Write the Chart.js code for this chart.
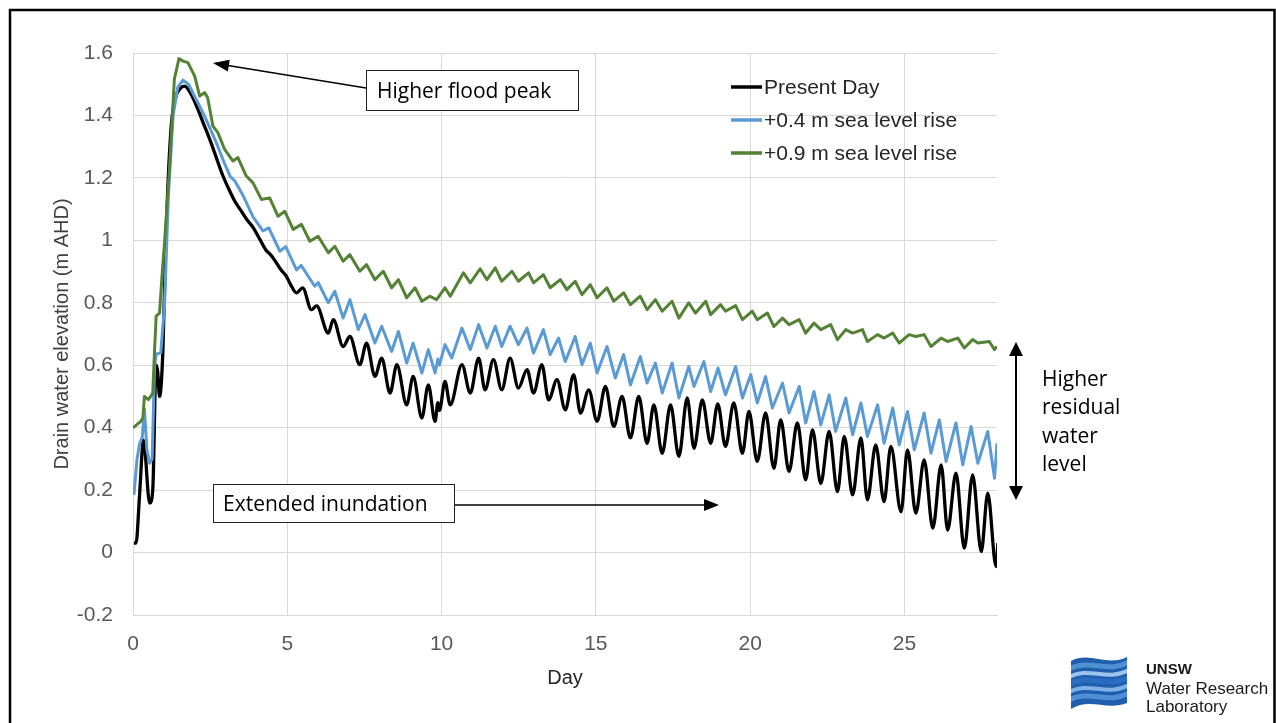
<!DOCTYPE html>
<html><head><meta charset="utf-8">
<script src="https://cdn.jsdelivr.net/npm/chart.js@4.4.1/dist/chart.umd.min.js"></script>
<style>html,body{margin:0;padding:0;background:#fff;}canvas{display:block;}</style>
</head><body>
<canvas id="c" width="1276" height="723"></canvas>
<script>
// ---------------- DATA ----------------
const seriesNames = ['Present Day', '+0.4 m sea level rise', '+0.9 m sea level rise'];
const seriesColors = ['#000000', '#5b9bd5', '#548235'];
const xAxisTitle = 'Day';
const yAxisTitle = 'Drain water elevation (m AHD)';

// [day, elevation]
const presentDay = [
 [0.03,0.03],[0.1,0.03],[0.21,0.18],[0.34,0.36],[0.54,0.158],[0.64,0.2],[0.75,0.6],[0.8,0.58],[0.86,0.5],[0.97,0.65],
 [1.06,0.99],[1.23,1.355],[1.39,1.46],[1.52,1.485],[1.67,1.494],[1.9,1.465],[2.1,1.42],[2.3,1.37],[2.5,1.32],[2.7,1.265],
 [2.9,1.21],[3.1,1.165],[3.3,1.125],[3.5,1.095],[3.7,1.065],[3.9,1.04],[4.1,1.005],[4.3,0.97],[4.45,0.955],[4.6,0.935],
 [4.8,0.905],[4.97,0.885],[5.1,0.86],[5.3,0.832],[5.5,0.848],[5.78,0.778],[5.95,0.79],[6.33,0.703],[6.49,0.746],[6.81,0.66],
 [7.03,0.692],[7.35,0.602],[7.57,0.671],[7.84,0.564],[8.06,0.623],[8.33,0.511],[8.55,0.602],[8.87,0.473],[9.08,0.564],[9.36,0.431],
 [9.57,0.537],[9.79,0.42],[9.88,0.48],[9.93,0.455],[10.11,0.548],[10.28,0.473],[10.66,0.602],[10.93,0.511],[11.2,0.623],[11.41,0.521],
 [11.68,0.618],[11.95,0.521],[12.22,0.623],[12.49,0.527],[12.77,0.586],[12.98,0.511],[13.25,0.602],[13.47,0.489],[13.74,0.554],[14.01,0.457],
 [14.28,0.57],[14.5,0.447],[14.77,0.521],[15.04,0.42],[15.31,0.532],[15.58,0.404],[15.85,0.5],[16.12,0.367],[16.39,0.5],[16.66,0.35],
 [16.88,0.473],[17.15,0.318],[17.42,0.473],[17.69,0.308],[17.96,0.495],[18.18,0.334],[18.45,0.489],[18.72,0.35],[18.95,0.476],[19.2,0.34],
 [19.47,0.479],[19.75,0.318],[19.96,0.452],[20.23,0.292],[20.5,0.447],[20.77,0.27],[20.99,0.425],[21.26,0.26],[21.53,0.415],[21.8,0.233],
 [22.02,0.393],[22.29,0.222],[22.56,0.388],[22.83,0.195],[23.05,0.372],[23.32,0.185],[23.59,0.367],[23.8,0.169],[24.07,0.345],[24.34,0.163],
 [24.56,0.34],[24.89,0.131],[25.1,0.329],[25.37,0.126],[25.64,0.297],[25.92,0.078],[26.19,0.281],[26.4,0.072],[26.67,0.254],[26.94,0.014],
 [27.21,0.249],[27.49,0.003],[27.7,0.19],[27.97,-0.045],[28.03,0.03]
];
const slr04 = [
 [0.03,0.185],[0.13,0.3],[0.22,0.35],[0.3,0.37],[0.37,0.46],[0.45,0.33],[0.54,0.286],[0.62,0.3],[0.7,0.6],[0.75,0.635],
 [0.9,0.64],[1.02,0.79],[1.15,1.15],[1.3,1.4],[1.45,1.49],[1.62,1.513],[1.8,1.5],[2.0,1.46],[2.16,1.43],[2.4,1.38],
 [2.7,1.313],[2.95,1.25],[3.15,1.205],[3.3,1.19],[3.56,1.145],[3.89,1.075],[4.21,1.03],[4.4,1.04],[4.76,0.965],[4.95,0.98],
 [5.3,0.905],[5.45,0.92],[5.89,0.853],[6.0,0.865],[6.33,0.8],[6.54,0.837],[6.81,0.751],[7.03,0.81],[7.3,0.714],[7.52,0.762],
 [7.84,0.671],[8.06,0.725],[8.38,0.644],[8.6,0.708],[8.87,0.607],[9.08,0.671],[9.36,0.575],[9.57,0.65],[9.79,0.575],[9.88,0.62],
 [9.93,0.6],[10.11,0.666],[10.33,0.623],[10.66,0.719],[10.93,0.65],[11.2,0.73],[11.47,0.655],[11.74,0.725],[11.95,0.66],[12.22,0.725],
 [12.49,0.666],[12.77,0.719],[12.98,0.639],[13.3,0.714],[13.52,0.634],[13.79,0.687],[14.01,0.612],[14.33,0.692],[14.55,0.602],[14.82,0.671],
 [15.04,0.575],[15.36,0.66],[15.63,0.559],[15.9,0.634],[16.12,0.537],[16.44,0.628],[16.66,0.543],[16.93,0.607],[17.15,0.511],[17.47,0.607],
 [17.69,0.495],[18.01,0.596],[18.18,0.532],[18.5,0.612],[18.72,0.516],[18.96,0.591],[19.2,0.505],[19.53,0.596],[19.75,0.495],[20.02,0.57],
 [20.23,0.479],[20.5,0.564],[20.72,0.463],[21.05,0.543],[21.26,0.447],[21.59,0.532],[21.8,0.415],[22.07,0.516],[22.29,0.409],[22.56,0.505],
 [22.77,0.388],[23.1,0.495],[23.32,0.377],[23.59,0.479],[23.8,0.372],[24.13,0.473],[24.34,0.35],[24.62,0.463],[24.83,0.345],[25.1,0.452],
 [25.32,0.329],[25.64,0.447],[25.86,0.318],[26.13,0.425],[26.35,0.292],[26.67,0.415],[26.89,0.281],[27.16,0.404],[27.38,0.286],[27.7,0.388],
 [27.92,0.238],[28.0,0.35]
];
const slr09 = [
 [0.0,0.399],[0.25,0.42],[0.32,0.431],[0.37,0.5],[0.5,0.49],[0.64,0.51],[0.7,0.65],[0.75,0.757],[0.86,0.767],[0.95,0.9],
 [1.02,0.99],[1.18,1.227],[1.34,1.516],[1.49,1.582],[1.62,1.574],[1.78,1.569],[2.0,1.526],[2.16,1.462],[2.32,1.473],[2.42,1.457],
 [2.59,1.366],[2.75,1.345],[2.97,1.291],[3.24,1.254],[3.4,1.265],[3.67,1.206],[3.89,1.184],[4.16,1.131],[4.43,1.136],[4.7,1.077],
 [4.92,1.093],[5.19,1.035],[5.46,1.051],[5.73,0.997],[6.0,1.013],[6.33,0.96],[6.54,0.981],[6.81,0.933],[7.03,0.954],[7.35,0.901],
 [7.57,0.922],[7.84,0.874],[8.11,0.901],[8.38,0.848],[8.6,0.874],[8.87,0.816],[9.14,0.848],[9.36,0.805],[9.62,0.821],[9.84,0.81],
 [10.11,0.848],[10.28,0.821],[10.71,0.896],[10.93,0.864],[11.25,0.909],[11.47,0.874],[11.74,0.912],[11.95,0.869],[12.28,0.901],[12.49,0.869],
 [12.82,0.896],[12.98,0.864],[13.3,0.89],[13.52,0.848],[13.85,0.874],[14.06,0.842],[14.33,0.869],[14.55,0.826],[14.82,0.858],[15.04,0.816],
 [15.36,0.848],[15.58,0.805],[15.9,0.832],[16.12,0.794],[16.44,0.821],[16.66,0.778],[16.93,0.81],[17.15,0.773],[17.47,0.805],[17.69,0.751],
 [18.01,0.8],[18.23,0.767],[18.56,0.805],[18.72,0.762],[19.04,0.794],[19.2,0.773],[19.53,0.791],[19.75,0.746],[20.07,0.773],[20.23,0.746],
 [20.56,0.767],[20.77,0.724],[21.05,0.751],[21.26,0.73],[21.59,0.746],[21.8,0.703],[22.07,0.735],[22.29,0.714],[22.61,0.73],[22.83,0.682],
 [23.1,0.714],[23.32,0.703],[23.64,0.714],[23.8,0.676],[24.13,0.698],[24.34,0.687],[24.62,0.703],[24.83,0.671],[25.15,0.698],[25.37,0.692],
 [25.64,0.698],[25.86,0.66],[26.19,0.687],[26.4,0.676],[26.73,0.687],[26.94,0.655],[27.21,0.682],[27.38,0.671],[27.75,0.676],[27.92,0.65],
 [28.0,0.66]
];
const xTickValues = [0, 5, 10, 15, 20, 25];
const yTickValues = [-0.2, 0, 0.2, 0.4, 0.6, 0.8, 1, 1.2, 1.4, 1.6];

// ---------------- CHART ----------------
const toPts = arr => arr.map(p => ({x: p[0], y: p[1]}));
const allSeries = [presentDay, slr04, slr09];

const decorations = {
  id: 'decorations',
  afterDraw(chart) {
    const ctx = chart.ctx;
    ctx.save();
    // legend
    ctx.font = '21px "Liberation Sans", Arial, sans-serif';
    ctx.textBaseline = 'middle';
    const rows = [87, 120, 153];
    chart.data.datasets.forEach((ds, i) => {
      ctx.strokeStyle = ds.borderColor; ctx.lineWidth = 3.5;
      ctx.beginPath(); ctx.moveTo(731, rows[i]); ctx.lineTo(762, rows[i]); ctx.stroke();
      ctx.fillStyle = '#262626';
      ctx.fillText(ds.label, 764, rows[i] + 1);
    });

    const arrowHead = (x1, y1, x2, y2, len, half) => {
      const a = Math.atan2(y2 - y1, x2 - x1);
      ctx.beginPath();
      ctx.moveTo(x2, y2);
      ctx.lineTo(x2 - len * Math.cos(a) + half * Math.sin(a), y2 - len * Math.sin(a) - half * Math.cos(a));
      ctx.lineTo(x2 - len * Math.cos(a) - half * Math.sin(a), y2 - len * Math.sin(a) + half * Math.cos(a));
      ctx.closePath(); ctx.fill();
    };
    ctx.fillStyle = '#000'; ctx.strokeStyle = '#000';

    // Higher flood peak
    ctx.lineWidth = 1.3;
    ctx.beginPath(); ctx.moveTo(366, 88); ctx.lineTo(225, 65); ctx.stroke();
    arrowHead(366, 88, 213, 63, 16, 6);
    ctx.fillStyle = '#fff'; ctx.fillRect(366.5, 70.5, 212, 40);
    ctx.strokeStyle = '#222'; ctx.lineWidth = 1; ctx.strokeRect(366.5, 70.5, 212, 40);
    ctx.fillStyle = '#000';
    ctx.font = '21px "Open Sans", sans-serif';
    ctx.fillText('Higher flood peak', 377, 92);

    // Extended inundation
    ctx.strokeStyle = '#000'; ctx.lineWidth = 1.3;
    ctx.beginPath(); ctx.moveTo(455, 505); ctx.lineTo(706, 505); ctx.stroke();
    arrowHead(455, 505, 719, 505, 15, 6);
    ctx.fillStyle = '#fff'; ctx.fillRect(213.5, 484.5, 241, 38);
    ctx.strokeStyle = '#222'; ctx.lineWidth = 1; ctx.strokeRect(213.5, 484.5, 241, 38);
    ctx.fillStyle = '#000';
    ctx.fillText('Extended inundation', 223, 505);

    // Higher residual water level
    ctx.strokeStyle = '#000'; ctx.lineWidth = 2;
    ctx.beginPath(); ctx.moveTo(1016, 352); ctx.lineTo(1016, 490); ctx.stroke();
    arrowHead(1016, 420, 1016, 342, 14, 7);
    arrowHead(1016, 420, 1016, 500, 14, 7);
    ['Higher', 'residual', 'water', 'level'].forEach((t, i) => ctx.fillText(t, 1042, 380 + i * 28.5));

    // frame
    ctx.strokeStyle = '#000'; ctx.lineWidth = 2.5;
    ctx.beginPath(); ctx.moveTo(10, 730); ctx.lineTo(10, 10); ctx.lineTo(1274.5, 10); ctx.lineTo(1274.5, 730); ctx.stroke();

    // logo
    const lx = 1071, ly = 657, lw = 56, lh = 52;
    ctx.save();
    ctx.beginPath();
    ctx.moveTo(lx, ly + 4);
    ctx.bezierCurveTo(lx + 18, ly - 6, lx + 36, ly + 10, lx + lw, ly);
    ctx.lineTo(lx + lw, ly + lh - 6);
    ctx.bezierCurveTo(lx + 36, ly + lh + 2, lx + 18, ly + lh - 12, lx, ly + lh);
    ctx.closePath();
    ctx.fillStyle = '#1f5fae'; ctx.fill();
    ctx.clip();
    const bands = [['#4f8fd4', 9, 5], ['#9cc3ec', 17, 4], ['#2a6cc0', 24, 5], ['#7fb0e6', 32, 4], ['#4f8fd4', 40, 5]];
    bands.forEach(b => {
      ctx.strokeStyle = b[0]; ctx.lineWidth = b[2];
      ctx.beginPath();
      ctx.moveTo(lx - 2, ly + b[1] + 3);
      ctx.bezierCurveTo(lx + 18, ly + b[1] - 8, lx + 36, ly + b[1] + 8, lx + lw + 2, ly + b[1] - 4);
      ctx.stroke();
    });
    ctx.restore();
    ctx.fillStyle = '#1a1a1a';
    ctx.font = 'bold 15px "Liberation Sans", Arial, sans-serif';
    ctx.fillText('UNSW', 1146, 670);
    ctx.font = '17px "Liberation Sans", Arial, sans-serif';
    ctx.fillText('Water Research', 1146, 689);
    ctx.fillText('Laboratory', 1146, 707);
    ctx.restore();
  }
};

new Chart(document.getElementById('c'), {
  type: 'line',
  data: {
    datasets: allSeries.map((s, i) => ({
      label: seriesNames[i],
      data: toPts(s),
      borderColor: seriesColors[i],
      backgroundColor: seriesColors[i],
      borderWidth: i === 0 ? 3.3 : 3,
      pointRadius: 0,
      fill: false,
      tension: 0,
      borderJoinStyle: 'round',
      cubicInterpolationMode: i === 0 ? 'monotone' : 'default',
      order: 3 - i
    }))
  },
  options: {
    responsive: false,
    animation: false,
    events: [],
    layout: { padding: { top: 53, right: 279, left: 0, bottom: 0 } },
    plugins: { legend: { display: false }, tooltip: { enabled: false } },
    scales: {
      x: {
        type: 'linear', min: 0, max: 28,
        afterBuildTicks: sc => { sc.ticks = xTickValues.map(v => ({value: v})); },
        afterFit: sc => { sc.height = 108; },
        ticks: { padding: 17, color: '#595959', font: { family: '"Liberation Sans", Arial, sans-serif', size: 21 }, maxRotation: 0 },
        grid: { color: '#d9d9d9', lineWidth: 1, drawTicks: false },
        border: { color: '#d9d9d9' },
        title: { display: true, text: xAxisTitle, color: '#262626', font: { family: '"Liberation Sans", Arial, sans-serif', size: 20 }, padding: { top: 0, bottom: 33 } }
      },
      y: {
        min: -0.2, max: 1.6,
        afterBuildTicks: sc => { sc.ticks = yTickValues.map(v => ({value: v})); },
        afterFit: sc => { sc.width = 133; },
        ticks: { padding: 20, color: '#595959', font: { family: '"Liberation Sans", Arial, sans-serif', size: 21 },
                 callback: v => String(Number(v.toFixed(1))) },
        grid: { color: '#d9d9d9', lineWidth: 1, drawTicks: false },
        border: { color: '#d9d9d9' },
        title: { display: true, text: yAxisTitle, color: '#404040', font: { family: '"Liberation Sans", Arial, sans-serif', size: 20 }, padding: { top: 50, bottom: 0 } }
      }
    }
  },
  plugins: [decorations]
});
</script>
</body></html>
